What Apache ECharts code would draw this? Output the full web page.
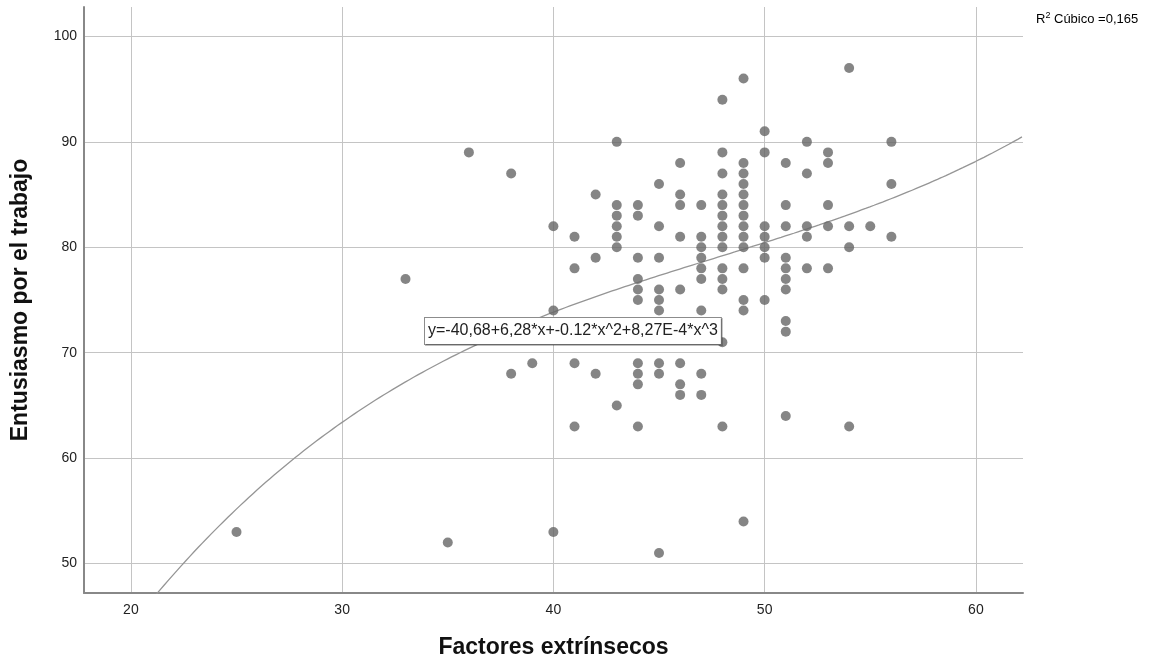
<!DOCTYPE html>
<html>
<head>
<meta charset="utf-8">
<script src="https://cdn.jsdelivr.net/npm/echarts@6/dist/echarts.min.js"></script>
<style>
  html, body { margin: 0; padding: 0; background: #fff; }
  #chart { width: 1150px; height: 666px; }
</style>
</head>
<body>
<div id="chart"></div>
<script>
// tick labels
const xTicks = [20, 30, 40, 50, 60];
const yTicks = [50, 60, 70, 80, 90, 100];

// Factores extrínsecos (x) and Entusiasmo por el trabajo (y), one point per pair
const factores = [
  25, 33, 35, 36, 38, 38, 39, 40, 40, 40,
  41, 41, 41, 41, 42, 42, 42,
  43, 43, 43, 43, 43, 43, 43,
  44, 44, 44, 44, 44, 44, 44, 44, 44, 44,
  45, 45, 45, 45, 45, 45, 45, 45, 45,
  46, 46, 46, 46, 46, 46, 46, 46,
  47, 47, 47, 47, 47, 47, 47, 47, 47,
  48, 48, 48, 48, 48, 48, 48, 48, 48, 48, 48, 48, 48, 48,
  49, 49, 49, 49, 49, 49, 49, 49, 49, 49, 49, 49, 49, 49,
  50, 50, 50, 50, 50, 50, 50,
  51, 51, 51, 51, 51, 51, 51, 51, 51, 51,
  52, 52, 52, 52, 52,
  53, 53, 53, 53, 53,
  54, 54, 54, 54,
  55,
  56, 56, 56
];
const entusiasmo = [
  53, 77, 52, 89, 87, 68, 69, 82, 74, 53,
  81, 78, 69, 63, 85, 79, 68,
  90, 84, 83, 82, 81, 80, 65,
  84, 83, 79, 77, 76, 75, 69, 68, 67, 63,
  86, 82, 79, 76, 75, 74, 69, 68, 51,
  88, 85, 84, 81, 76, 69, 67, 66,
  84, 81, 80, 79, 78, 77, 74, 68, 66,
  94, 89, 87, 85, 84, 83, 82, 81, 80, 78, 77, 76, 71, 63,
  96, 88, 87, 86, 85, 84, 83, 82, 81, 80, 78, 75, 74, 54,
  91, 89, 82, 81, 80, 79, 75,
  88, 84, 82, 79, 78, 77, 76, 73, 72, 64,
  90, 87, 82, 81, 78,
  89, 88, 84, 82, 78,
  97, 82, 80, 63,
  82,
  90, 86, 81
];

// cubic fit y = a + b*x + c*x^2 + d*x^3
const fitCoef = [-40.68, 6.28, -0.1185, 8.27e-4];
const xRange = [17.78, 62.23];
const yRange = [47.21, 102.79];

const points = factores.map((x, i) => [x, entusiasmo[i]]);

const fitLine = [];
for (let x = xRange[0]; x <= xRange[1] + 1e-9; x += 0.2) {
  fitLine.push([x, fitCoef[0] + fitCoef[1] * x + fitCoef[2] * x * x + fitCoef[3] * x * x * x]);
}

const font = 'Liberation Sans, Arial, sans-serif';
const gridColor = '#c4c4c4';
const axisColor = '#888';

const chart = echarts.init(document.getElementById('chart'));

chart.setOption({
  animation: false,
  backgroundColor: '#fff',
  grid: { left: 84, right: 127, top: 7, bottom: 73 },
  xAxis: {
    type: 'value',
    min: xRange[0],
    max: xRange[1],
    name: 'Factores extrínsecos',
    nameLocation: 'middle',
    nameGap: 43,
    nameTextStyle: { fontFamily: font, fontSize: 23, fontWeight: 'bold', color: '#111' },
    axisLine: { show: true, lineStyle: { color: axisColor, width: 2 } },
    axisTick: { show: false, customValues: xTicks },
    axisLabel: { customValues: xTicks, fontFamily: font, fontSize: 14, color: '#222', margin: 10 },
    splitLine: { show: true, lineStyle: { color: gridColor, width: 1 } }
  },
  yAxis: {
    type: 'value',
    min: yRange[0],
    max: yRange[1],
    name: 'Entusiasmo por el trabajo',
    nameLocation: 'middle',
    nameGap: 52,
    nameTextStyle: { fontFamily: font, fontSize: 23, fontWeight: 'bold', color: '#111' },
    axisLine: { show: true, lineStyle: { color: axisColor, width: 2 } },
    axisTick: { show: false, customValues: yTicks },
    axisLabel: { customValues: yTicks, fontFamily: font, fontSize: 14, color: '#222', margin: 7 },
    splitLine: { show: true, lineStyle: { color: gridColor, width: 1 } }
  },
  series: [
    {
      type: 'line',
      data: fitLine,
      showSymbol: false,
      smooth: false,
      clip: true,
      lineStyle: { color: '#959595', width: 1.3 },
      z: 2
    },
    {
      type: 'scatter',
      data: points,
      symbol: 'circle',
      symbolSize: 10,
      itemStyle: { color: '#676767' },
      z: 3
    }
  ],
  graphic: [
    {
      type: 'text',
      left: 424,
      top: 317,
      z: 100,
      style: {
        text: 'y=-40,68+6,28*x+-0.12*x^2+8,27E-4*x^3',
        font: '16px ' + font,
        fill: '#222',
        backgroundColor: '#fff',
        borderColor: '#8c8c8c',
        borderWidth: 1,
        padding: [5, 3, 5, 3],
        shadowColor: 'rgba(0,0,0,0.25)',
        shadowOffsetX: 1,
        shadowOffsetY: 1
      }
    },
    {
      type: 'text',
      left: 1036,
      top: 11,
      z: 100,
      style: {
        text: '{a|R}{s|2}{a| Cúbico =0,165}',
        rich: {
          a: { fontFamily: font, fontSize: 13, color: '#555', lineHeight: 15, verticalAlign: 'bottom' },
          s: { fontFamily: font, fontSize: 9, color: '#555', lineHeight: 15, verticalAlign: 'top' }
        }
      }
    }
  ]
});
</script>
</body>
</html>
